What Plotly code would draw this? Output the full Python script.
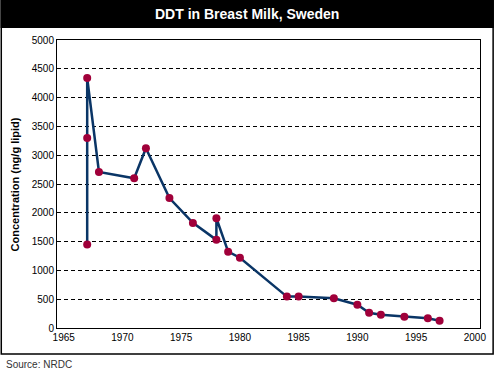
import plotly.graph_objects as go

years = [1967, 1967, 1967, 1968, 1971, 1972, 1974, 1976, 1978, 1978, 1979,
         1980, 1984, 1985, 1988, 1990, 1991, 1992, 1994, 1996, 1997]
values = [1450, 3300, 4340, 2710, 2600, 3120, 2255, 1825, 1530, 1905, 1325,
          1220, 545, 545, 515, 405, 265, 230, 195, 170, 125]
x_ticks = [1965, 1970, 1975, 1980, 1985, 1990, 1995, 2000]
y_ticks = [0, 500, 1000, 1500, 2000, 2500, 3000, 3500, 4000, 4500, 5000]

title = "DDT in Breast Milk, Sweden"
y_title = "Concentration (ng/g lipid)"
source = "Source: NRDC"

FONT = "Arial, 'Liberation Sans', sans-serif"
W, H = 498, 371
L, R, T, B = 57, 14, 40, 43
pw, ph = W - L - R, H - T - B


def px(x):
    return (x - L) / pw


def py(y):
    return (H - B - y) / ph


fig = go.Figure()
fig.add_trace(go.Scatter(
    x=years, y=values, mode="lines+markers",
    line=dict(color="#0a3566", width=2.5),
    marker=dict(color="#a0003a", size=8, line=dict(width=0)),
    cliponaxis=False, showlegend=False,
))

fig.update_layout(
    width=W, height=H,
    margin=dict(l=L, r=R, t=T, b=B, pad=0),
    paper_bgcolor="white", plot_bgcolor="white",
    font=dict(family=FONT, size=10, color="black"),
    xaxis=dict(range=[1964.43, 2000.44], tickvals=x_ticks,
               ticktext=[str(v) for v in x_ticks],
               showgrid=False, zeroline=False, showline=True,
               linecolor="black", linewidth=1, mirror=True, ticks="",
               tickfont=dict(size=10, color="black")),
    yaxis=dict(range=[0, 5000], tickvals=y_ticks,
               showgrid=True, gridcolor="black", gridwidth=1, griddash="4px,3px",
               zeroline=False, showline=True, linecolor="black", linewidth=1,
               mirror=True, ticks="", tickfont=dict(size=10, color="black")),
    shapes=[
        dict(type="rect", xref="paper", yref="paper",
             x0=px(0.75), x1=px(W - 0.75), y0=py(354), y1=py(0.75),
             line=dict(color="black", width=1.5), fillcolor="rgba(0,0,0,0)",
             layer="below"),
        dict(type="rect", xref="paper", yref="paper",
             x0=px(0), x1=px(W), y0=py(28), y1=py(0),
             line=dict(width=0), fillcolor="black", layer="below"),
    ],
    annotations=[
        dict(text="<b>" + title + "</b>", xref="paper", yref="paper",
             x=px(249), y=py(14), xanchor="center", yanchor="middle",
             showarrow=False, font=dict(size=14, color="white", family=FONT)),
        dict(text="<b>" + y_title + "</b>", xref="paper", yref="paper",
             x=px(15), y=py(184), xanchor="center", yanchor="middle",
             textangle=-90, showarrow=False,
             font=dict(size=11, color="black", family=FONT)),
        dict(text=source, xref="paper", yref="paper",
             x=px(3), y=py(364), xanchor="left", yanchor="middle",
             showarrow=False, font=dict(size=10, color="#333333", family=FONT)),
    ],
)

fig.write_html("out.html", config={"displayModeBar": False},
               post_script="document.body.style.margin='0';document.body.style.overflow='hidden';")
